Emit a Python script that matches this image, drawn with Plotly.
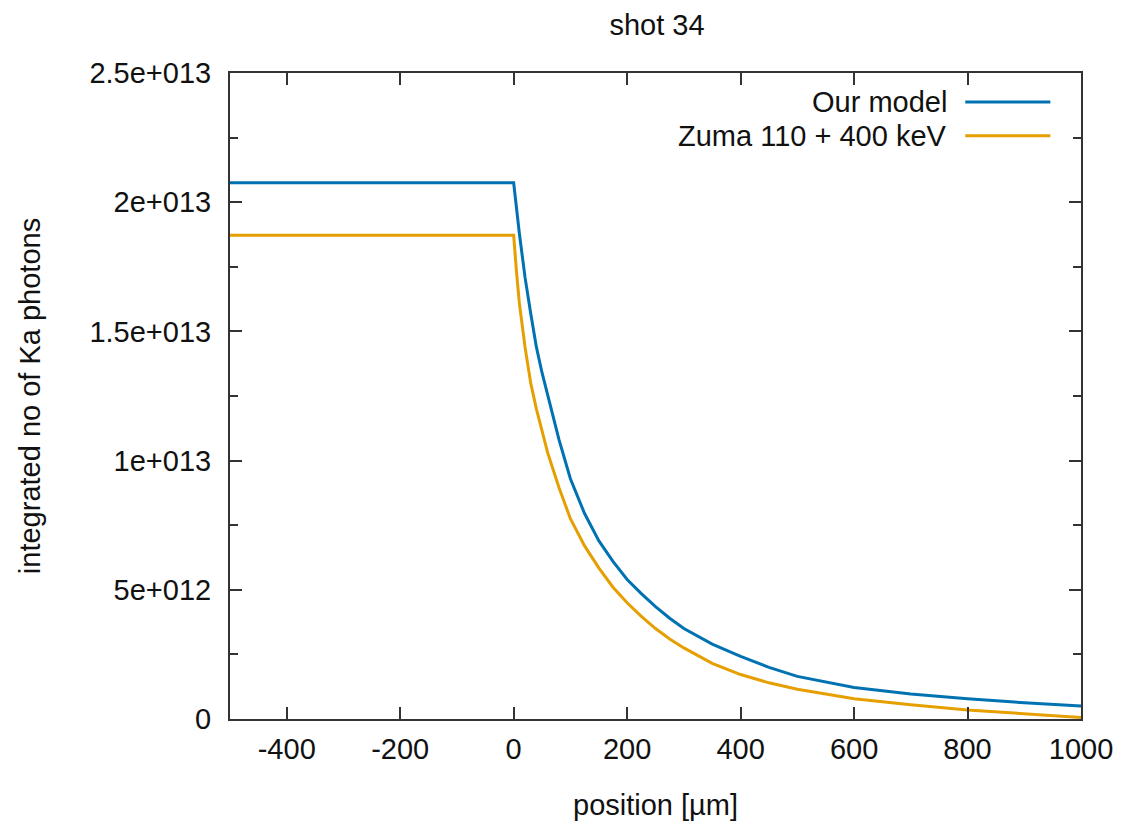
import plotly.graph_objects as go

# position [µm]
x_model = [-500, 0, 10, 20, 30, 40, 50, 60, 80, 100, 125, 150, 175, 200, 225, 250, 275,
           300, 350, 400, 450, 500, 600, 700, 800, 900, 1000]
# integrated no of Ka photons [1e12]
y_model = [20.75, 20.75, 18.8, 17.1, 15.7, 14.4, 13.4, 12.5, 10.8, 9.3, 7.95, 6.9,
           6.1, 5.4, 4.85, 4.35, 3.9, 3.5, 2.9, 2.42, 2.0, 1.65, 1.22, 0.97, 0.78, 0.63, 0.5]

x_zuma = [-500, 0, 5, 10, 20, 30, 40, 50, 60, 80, 100, 125, 150, 175, 200, 225, 250, 275,
          300, 350, 400, 450, 500, 600, 700, 800, 900, 1000]
y_zuma = [18.72, 18.72, 17.3, 16.1, 14.4, 13.0, 12.0, 11.1, 10.3, 8.95, 7.75, 6.7,
          5.85, 5.1, 4.5, 3.97, 3.5, 3.1, 2.75, 2.15, 1.72, 1.4, 1.15, 0.78, 0.55, 0.35,
          0.2, 0.06]

scale = 1e12
series_names = ["Our model", "Zuma 110 + 400 keV"]
series_colors = ["#0072b2", "#e69f00"]

x_tickvals = [-400, -200, 0, 200, 400, 600, 800, 1000]
x_ticktext = ["-400", "-200", "0", "200", "400", "600", "800", "1000"]
y_tickvals = [0, 5e12, 1e13, 1.5e13, 2e13, 2.5e13]
y_ticktext = ["0", "5e+012", "1e+013", "1.5e+013", "2e+013", "2.5e+013"]

FONT = "Liberation Sans, Arial, sans-serif"
FS = 29
TXT = "#111111"

fig = go.Figure()
for xs, ys, name, col in [(x_model, y_model, series_names[0], series_colors[0]),
                          (x_zuma, y_zuma, series_names[1], series_colors[1])]:
    fig.add_trace(go.Scatter(x=xs, y=[v * scale for v in ys], mode="lines", name=name,
                             line=dict(color=col, width=3), showlegend=False))

axis_common = dict(showline=True, linecolor="#333333", linewidth=2, mirror="ticks",
                   ticks="inside", tickcolor="#333333", tickwidth=2, ticklen=12,
                   showgrid=False, zeroline=False,
                   tickfont=dict(family=FONT, size=FS, color=TXT))

fig.update_xaxes(range=[-500, 1000], tickvals=x_tickvals, ticktext=x_ticktext,
                 ticklabelstandoff=3,
                 title=dict(text="position [µm]", font=dict(family=FONT, size=FS, color=TXT),
                            standoff=31),
                 **axis_common)
fig.update_yaxes(range=[0, 2.5e13], tickvals=y_tickvals, ticktext=y_ticktext,
                 ticklabelstandoff=11,
                 minor=dict(dtick=2.5e12, ticks="inside", ticklen=8, tickcolor="#333333",
                            tickwidth=2, showgrid=False),
                 title=dict(text="integrated no of Ka photons",
                            font=dict(family=FONT, size=FS, color=TXT), standoff=40),
                 **axis_common)

# legend in gnuplot style: text right-aligned, line sample to the right
legend_y = [0.955, 0.903]
for name, col, ly in zip(series_names, series_colors, legend_y):
    fig.add_annotation(x=0.845, y=ly, xref="paper", yref="paper", text=name,
                       showarrow=False, xanchor="right", yanchor="middle",
                       font=dict(family=FONT, size=FS, color=TXT))
    fig.add_shape(type="line", xref="paper", yref="paper", x0=0.864, x1=0.964,
                  y0=ly, y1=ly, line=dict(color=col, width=3))

fig.update_layout(
    width=1114, height=815,
    margin=dict(l=222, r=41, t=65, b=104, autoexpand=False),
    paper_bgcolor="white", plot_bgcolor="white",
    title=dict(text="shot 34", x=0.5826, xanchor="center", y=0.979, yanchor="middle",
               font=dict(family=FONT, size=FS, color=TXT)),
)

fig.write_html("out.html")
